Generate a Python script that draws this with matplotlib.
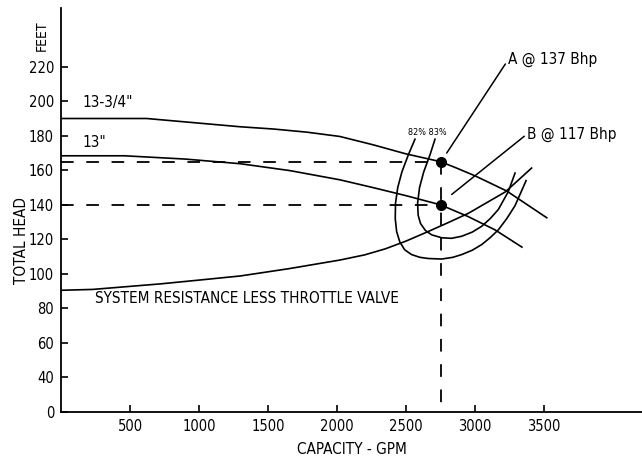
#!/usr/bin/env python3

import matplotlib
matplotlib.use("Agg")
import matplotlib.pyplot as plt
from matplotlib import font_manager

# try for a narrow sans, the original lettering is condensed
cands = [f for f in font_manager.fontManager.ttflist
         if ('Narrow' in f.name or 'Condensed' in f.name or 'condensed' in str(f.stretch)
             or 'Narrow' in f.fname or 'Condensed' in f.fname)
         and f.style == 'normal' and f.weight in (400, 'normal', 'regular')]
if cands:
    plt.rcParams['font.family'] = [cands[0].name, 'DejaVu Sans']
    plt.rcParams['font.stretch'] = cands[0].stretch
    k = 1.0
else:
    plt.rcParams['font.family'] = ['Liberation Sans', 'DejaVu Sans']
    k = 0.9

# Pump curves, capacity (gpm) vs total head (ft)
q_1334 = [0, 620, 1300, 1540, 1780, 2020, 2260, 2500, 2750, 2860, 3000, 3230, 3520]
h_1334 = [190, 190, 185.2, 183.9, 182.1, 179.6, 174.8, 169.5, 165, 161.5, 156.8, 148, 132.5]

q_13 = [0, 460, 900, 1300, 1660, 2020, 2260, 2500, 2750, 2950, 3145, 3340]
h_13 = [168.4, 168.4, 166.5, 163.8, 159.8, 154.5, 150, 145.3, 140, 133.2, 125.5, 115.5]

q_sys = [0, 230, 720, 1000, 1300, 1650, 2020, 2200, 2350, 2500, 2660, 2800, 2950, 3220, 3410]
h_sys = [90.5, 91, 94.2, 96.4, 98.8, 103, 108, 111, 114.5, 119, 124.5, 129.5, 135, 147.5, 161.3]

# efficiency contours
q_82 = [2565, 2517, 2470, 2440, 2424, 2422, 2432, 2455, 2490, 2540, 2600, 2662, 2759, 2840, 2904,
        2980, 3049, 3110, 3169, 3230, 3290, 3370]
h_82 = [178, 169, 159, 150, 141, 132, 124.5, 118.5, 114, 111.2, 109.6, 108.9, 108.6, 109.6, 111.2,
        113.7, 117, 121, 125.5, 132, 139.5, 154]

q_83 = [2710, 2674, 2628, 2598, 2584, 2588, 2605, 2640, 2686, 2759, 2830, 2904, 2980, 3049,
        3110, 3169, 3241, 3290]
h_83 = [178, 169, 159, 150, 141, 134, 129.2, 125.2, 122.6, 120.9, 120.6, 121.8, 124.2, 127.6,
        132, 137.3, 147.6, 158.4]

# operating points
q_op = [2750, 2750]
h_op = [165, 140]

y_ticks = [20, 40, 60, 80, 100, 120, 140, 160, 180, 200, 220]
y_labels = ['0', '40', '60', '80', '100', '120', '140', '160', '180', '200', '220']
x_ticks = [500, 1000, 1500, 2000, 2500, 3000, 3500]

fig = plt.figure(figsize=(6.42, 4.57), dpi=100)
ax = fig.add_axes([61 / 642, 45 / 457, 581 / 642, 404 / 457])

lw = 1.2
for q, h in [(q_1334, h_1334), (q_13, h_13), (q_sys, h_sys), (q_82, h_82), (q_83, h_83)]:
    ax.plot(q, h, color='black', lw=lw, solid_joinstyle='round')

# dashed guide lines
dash = dict(color='black', lw=1.3, dashes=(7, 7))
ax.plot([0, q_op[0]], [h_op[0], h_op[0]], **dash)
ax.plot([0, q_op[1]], [h_op[1], h_op[1]], **dash)
ax.plot([q_op[0], q_op[0]], [h_op[0], 20], **dash)
ax.plot(q_op, h_op, 'o', color='black', ms=7)

# labels
ax.text(152, 199, '13-3/4"', fontsize=11 * k, va='center', ha='left')
ax.text(152, 176, '13"', fontsize=11 * k, va='center', ha='left')
ax.text(246, 86, 'SYSTEM RESISTANCE LESS THROTTLE VALVE', fontsize=11 * k, va='center', ha='left')
ax.text(2656, 182, '82% 83%', fontsize=6.5, va='center', ha='center')
ax.annotate('A @ 137 Bhp', xy=(2795, 170), xytext=(3240, 224), fontsize=11 * k,
            va='center', ha='left',
            arrowprops=dict(arrowstyle='-', color='black', lw=1.1, shrinkA=0, shrinkB=0,
                            relpos=(0, 0.5)))
ax.annotate('B @ 117 Bhp', xy=(2831, 146), xytext=(3377, 181), fontsize=11 * k,
            va='center', ha='left',
            arrowprops=dict(arrowstyle='-', color='black', lw=1.1, shrinkA=0, shrinkB=0,
                            relpos=(0, 0.5)))

ax.set_xlim(0, 4210)
ax.set_ylim(20, 254)
ax.set_yticks(y_ticks)
ax.set_yticklabels(y_labels)
ax.set_xticks(x_ticks)
ax.tick_params(direction='in', length=5, width=1.2, labelsize=10.5 * k, pad=5)
for s in ['top', 'right']:
    ax.spines[s].set_visible(False)
for s in ['left', 'bottom']:
    ax.spines[s].set_linewidth(1.3)

ax.set_xlabel('CAPACITY - GPM', fontsize=11 * k, labelpad=6)
fig.text(22 / 642, 1 - 240 / 457, 'TOTAL HEAD', rotation=90, fontsize=11 * k, ha='center', va='center')
fig.text(42 / 642, 1 - 36 / 457, 'FEET', rotation=90, fontsize=10 * k, ha='center', va='center')

fig.savefig('out.png', dpi=100)
